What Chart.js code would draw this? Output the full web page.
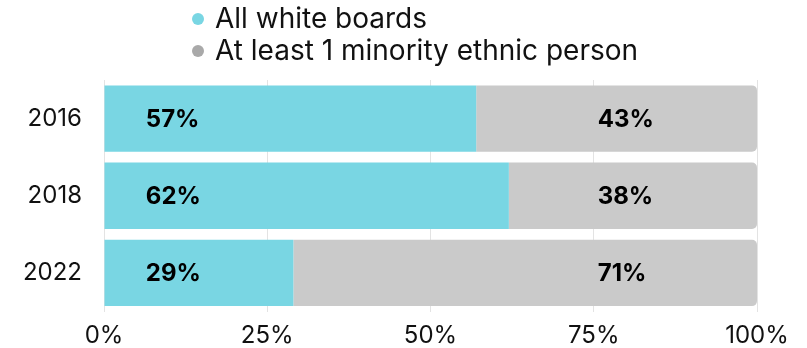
<!DOCTYPE html>
<html>
<head>
<meta charset="utf-8">
<script src="https://cdn.jsdelivr.net/npm/chart.js@4"></script>
<style>
  html, body { margin: 0; padding: 0; background: #fff; }
  #wrap { position: relative; width: 807px; height: 348px; }
  #legend { position: absolute; left: 192px; top: 2px; font-family: Inter, sans-serif; font-size: 28px; color: #111; }
  #legend div { height: 32px; line-height: 32px; white-space: nowrap; }
  #legend span { display: inline-block; width: 12px; height: 12px; border-radius: 50%; margin-right: 11px; vertical-align: 3px; }
</style>
</head>
<body>
<div id="wrap">
  <canvas id="chart" width="807" height="348"></canvas>
  <div id="legend"></div>
</div>
<script>
const years = ["2016", "2018", "2022"];
const seriesNames = ["All white boards", "At least 1 minority ethnic person"];
const whiteBoards = [57, 62, 29];
const minorityBoards = [43, 38, 71];
const xTicks = [0, 25, 50, 75, 100];
const colours = ["#79d6e3", "#cacaca"];
const legendDots = ["#79d6e3", "#a9a9a9"];

const font = "Inter, sans-serif";

// value labels start at a fixed spot on each segment's side of the axis
const valueLabels = {
  id: "valueLabels",
  afterDatasetsDraw(chart) {
    const ctx = chart.ctx;
    const x = chart.scales.x;
    const spots = [6.4, 75.6];
    ctx.save();
    ctx.font = "bold 24px " + font;
    ctx.fillStyle = "#000";
    ctx.textAlign = "left";
    ctx.textBaseline = "middle";
    chart.data.datasets.forEach((ds, i) => {
      chart.getDatasetMeta(i).data.forEach((bar, j) => {
        ctx.fillText(ds.data[j] + "%", x.getPixelForValue(spots[i]), bar.y + 1);
      });
    });
    ctx.restore();
  }
};

const chart = new Chart(document.getElementById("chart"), {
  type: "bar",
  data: {
    labels: years,
    datasets: [{
      label: seriesNames[0],
      data: whiteBoards,
      backgroundColor: colours[0],
      borderSkipped: false,
      borderRadius: 0
    }, {
      label: seriesNames[1],
      data: minorityBoards,
      backgroundColor: colours[1],
      borderSkipped: false,
      borderRadius: { topLeft: 0, bottomLeft: 0, topRight: 5, bottomRight: 5 }
    }]
  },
  options: {
    indexAxis: "y",
    responsive: false,
    animation: false,
    layout: { padding: { top: 80, right: 50, left: 0, bottom: 0 } },
    datasets: { bar: { barPercentage: 0.86, categoryPercentage: 1 } },
    plugins: {
      legend: { display: false },
      tooltip: { enabled: false }
    },
    scales: {
      x: {
        stacked: true,
        min: 0,
        max: 100,
        afterBuildTicks: s => { s.ticks = xTicks.map(v => ({ value: v })); },
        afterFit: s => { s.height = 36.5; },
        ticks: {
          callback: v => v + "%",
          color: "#111",
          font: { family: font, size: 24 },
          padding: 10,
          maxRotation: 0
        },
        grid: { color: "#e3e3e3", drawTicks: false },
        border: { display: false }
      },
      y: {
        stacked: true,
        afterFit: s => { s.width = 104; },
        ticks: {
          color: "#111",
          font: { family: font, size: 24 },
          padding: 14
        },
        grid: { display: false },
        border: { display: false }
      }
    }
  },
  plugins: [valueLabels]
});

// legend stacked in one column
const legend = document.getElementById("legend");
chart.data.datasets.forEach((ds, i) => {
  const row = document.createElement("div");
  const dot = document.createElement("span");
  dot.style.background = legendDots[i];
  row.appendChild(dot);
  row.appendChild(document.createTextNode(ds.label));
  legend.appendChild(row);
});
</script>
</body>
</html>
